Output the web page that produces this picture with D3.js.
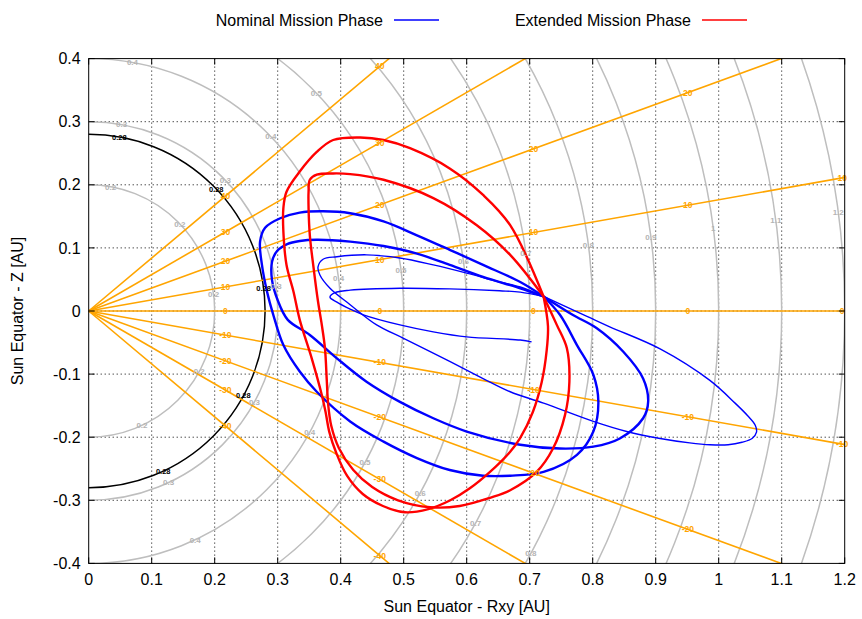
<!DOCTYPE html>
<html>
<head>
<meta charset="utf-8">
<script src="https://cdn.jsdelivr.net/npm/d3@7"></script>
<style>
  body { margin: 0; background: #fff; }
  svg { display: block; }
  text { font-family: "Liberation Sans", Arial, sans-serif; }
</style>
</head>
<body>
<svg id="chart" width="862" height="619"></svg>
<script>
// Axis ticks
const xTicks = [0, 0.1, 0.2, 0.3, 0.4, 0.5, 0.6, 0.7, 0.8, 0.9, 1, 1.1, 1.2];
const xTickLabels = ["0", "0.1", "0.2", "0.3", "0.4", "0.5", "0.6", "0.7", "0.8", "0.9", "1", "1.1", "1.2"];
const yTicks = [-0.4, -0.3, -0.2, -0.1, 0, 0.1, 0.2, 0.3, 0.4];
const yTickLabels = ["-0.4", "-0.3", "-0.2", "-0.1", "0", "0.1", "0.2", "0.3", "0.4"];

// Heliocentric distance rings [AU] and the latitudes [deg] where they are labelled
const distanceRings = [0.2, 0.3, 0.4, 0.5, 0.6, 0.7, 0.8, 0.9, 1.0, 1.1, 1.2];
const distanceRingLabels = ["0.2", "0.3", "0.4", "0.5", "0.6", "0.7", "0.8", "0.9", "1", "1.1", "1.2"];
const ringLabelLatitudes = [80, 43.7, 7.5, -28.7, -65];
const perihelionRing = 0.28;
const perihelionRingLabel = "0.28";

// Solar latitude lines [deg] and the Rxy positions [AU] of their labels
const latitudes = [-40, -30, -20, -10, 0, 10, 20, 30, 40];
const latitudeLabelRxy = [0.217, 0.462, 0.706, 0.951, 1.196];

// Nominal mission phase arcs [Rxy, Z] in AU, joined at the Venus flyby point
const nominalArc1 = [
  [0.703, -0.049], [0.685, -0.046], [0.600, -0.041], [0.547, -0.033], [0.494, -0.022],
  [0.436, -0.006], [0.415, 0.003], [0.394, 0.014], [0.383, 0.022], [0.391, 0.029],
  [0.415, 0.033], [0.494, 0.036], [0.573, 0.035], [0.652, 0.032], [0.685, 0.030], [0.722, 0.023]
];
const nominalArc2 = [
  [0.722, 0.023], [0.790, -0.008], [0.827, -0.025], [0.907, -0.060], [0.986, -0.110],
  [1.026, -0.146], [1.046, -0.166], [1.058, -0.181], [1.060, -0.192], [1.053, -0.202],
  [1.037, -0.208], [1.015, -0.212], [0.986, -0.212], [0.954, -0.209], [0.907, -0.202],
  [0.854, -0.191], [0.801, -0.175], [0.722, -0.146], [0.669, -0.128], [0.626, -0.107],
  [0.573, -0.080], [0.499, -0.043], [0.457, -0.022], [0.415, 0.010], [0.383, 0.036],
  [0.367, 0.057], [0.364, 0.070], [0.372, 0.082], [0.394, 0.086], [0.441, 0.089],
  [0.494, 0.084], [0.547, 0.073], [0.600, 0.060], [0.652, 0.046], [0.685, 0.038],
  [0.722, 0.023]
];
const nominalArc3 = [
  [0.722, 0.023], [0.768, -0.006], [0.806, -0.027], [0.849, -0.065], [0.880, -0.107],
  [0.888, -0.144], [0.880, -0.170], [0.843, -0.202], [0.801, -0.215], [0.748, -0.218],
  [0.685, -0.212], [0.600, -0.191], [0.547, -0.170], [0.494, -0.144], [0.441, -0.112],
  [0.394, -0.075], [0.351, -0.038], [0.316, -0.014], [0.300, 0.017], [0.291, 0.049],
  [0.291, 0.078], [0.299, 0.095], [0.315, 0.106], [0.335, 0.111], [0.362, 0.113],
  [0.415, 0.110], [0.468, 0.103], [0.521, 0.091], [0.573, 0.073], [0.626, 0.054],
  [0.685, 0.036], [0.722, 0.023]
];
const nominalArc4 = [
  [0.722, 0.023], [0.748, -0.006], [0.775, -0.054], [0.801, -0.101], [0.809, -0.144],
  [0.801, -0.191], [0.775, -0.228], [0.722, -0.255], [0.669, -0.261], [0.626, -0.261],
  [0.573, -0.252], [0.521, -0.233], [0.468, -0.207], [0.415, -0.175], [0.362, -0.128],
  [0.335, -0.096], [0.309, -0.054], [0.293, -0.006], [0.283, 0.031], [0.275, 0.073],
  [0.272, 0.110], [0.280, 0.132], [0.304, 0.147], [0.335, 0.156], [0.372, 0.158],
  [0.415, 0.155], [0.468, 0.142], [0.521, 0.120], [0.573, 0.097], [0.626, 0.073],
  [0.685, 0.046], [0.722, 0.023]
];

// Extended mission phase arcs [Rxy, Z] in AU
const extendedArc1 = [
  [0.722, 0.023], [0.669, 0.136], [0.626, 0.184], [0.573, 0.226], [0.510, 0.258],
  [0.468, 0.271], [0.431, 0.275], [0.388, 0.271], [0.362, 0.252], [0.335, 0.221],
  [0.314, 0.189], [0.309, 0.163], [0.309, 0.126], [0.314, 0.073], [0.325, 0.031],
  [0.335, -0.014], [0.354, -0.075], [0.370, -0.133], [0.376, -0.160], [0.382, -0.192],
  [0.393, -0.225], [0.410, -0.261], [0.435, -0.290], [0.467, -0.309], [0.502, -0.319],
  [0.539, -0.314], [0.574, -0.300], [0.605, -0.281], [0.637, -0.255], [0.669, -0.223],
  [0.685, -0.201], [0.705, -0.160], [0.719, -0.113], [0.727, -0.062], [0.729, -0.024],
  [0.722, 0.023]
];
const extendedArc2 = [
  [0.722, 0.023], [0.669, 0.089], [0.616, 0.136], [0.547, 0.179], [0.468, 0.208],
  [0.415, 0.217], [0.388, 0.218], [0.362, 0.216], [0.351, 0.208], [0.349, 0.189],
  [0.349, 0.163], [0.351, 0.120], [0.357, 0.068], [0.364, 0.015], [0.370, -0.022],
  [0.375, -0.059], [0.378, -0.112], [0.380, -0.147], [0.385, -0.182], [0.397, -0.217],
  [0.420, -0.252], [0.450, -0.279], [0.491, -0.300], [0.542, -0.311], [0.589, -0.309],
  [0.637, -0.296], [0.669, -0.284], [0.711, -0.255], [0.737, -0.218], [0.756, -0.165],
  [0.763, -0.112], [0.759, -0.059], [0.743, -0.022], [0.722, 0.023]
];

const legendItems = [
  { label: "Nominal Mission Phase", color: "#0000ff" },
  { label: "Extended Mission Phase", color: "#ff0000" }
];

const svg = d3.select("#chart");
const plotLeft = 88.7, plotRight = 844.7, plotTop = 58.6, plotBottom = 563.4;

const x = d3.scaleLinear().domain([0, 1.2]).range([plotLeft, plotRight]);
const y = d3.scaleLinear().domain([-0.4, 0.4]).range([plotBottom, plotTop]);

svg.append("defs").append("clipPath").attr("id", "plotClip")
  .append("rect").attr("x", plotLeft).attr("y", plotTop)
  .attr("width", plotRight - plotLeft).attr("height", plotBottom - plotTop);

const plot = svg.append("g").attr("clip-path", "url(#plotClip)");

// dotted grid
const grid = plot.append("g").attr("stroke", "#000").attr("stroke-width", 1)
  .attr("stroke-dasharray", "1,3");
grid.selectAll("line.gx").data(xTicks.slice(1, -1)).join("line")
  .attr("x1", d => x(d)).attr("x2", d => x(d)).attr("y1", plotTop).attr("y2", plotBottom);
grid.selectAll("line.gy").data(yTicks.slice(1, -1)).join("line")
  .attr("x1", plotLeft).attr("x2", plotRight).attr("y1", d => y(d)).attr("y2", d => y(d));

const rx = r => x(r) - x(0);
const ry = r => y(0) - y(r);
const rad = Math.PI / 180;

// distance rings
plot.append("g").selectAll("ellipse").data(distanceRings).join("ellipse")
  .attr("cx", x(0)).attr("cy", y(0)).attr("rx", rx).attr("ry", ry)
  .attr("fill", "none").attr("stroke", "#bebebe").attr("stroke-width", 1.5);
plot.append("ellipse").attr("cx", x(0)).attr("cy", y(0))
  .attr("rx", rx(perihelionRing)).attr("ry", ry(perihelionRing))
  .attr("fill", "none").attr("stroke", "#000").attr("stroke-width", 1.5);

// latitude lines
plot.append("g").selectAll("line").data(latitudes).join("line")
  .attr("x1", x(0)).attr("y1", y(0))
  .attr("x2", d => x(2 * Math.cos(d * rad))).attr("y2", d => y(2 * Math.sin(d * rad)))
  .attr("stroke", "#ffa500").attr("stroke-width", 1.6);

// ring and latitude labels
const inside = (px, py) => px >= x(0.005) && px <= x(1.2) && py >= y(0.398) && py <= y(-0.398);
const ringLabelData = [];
distanceRings.forEach((r, i) => ringLabelLatitudes.forEach(a => {
  const px = x(r * Math.cos(a * rad)), py = y(r * Math.sin(a * rad));
  if (inside(px, py)) ringLabelData.push({ px, py, t: distanceRingLabels[i], c: "#b4b4b4", s: 8 });
}));
ringLabelLatitudes.forEach(a => {
  ringLabelData.push({ px: x(perihelionRing * Math.cos(a * rad)), py: y(perihelionRing * Math.sin(a * rad)), t: perihelionRingLabel, c: "#000", s: 7.5 });
});
const latLabelData = [];
latitudes.forEach(l => latitudeLabelRxy.forEach(r => {
  const z = r * Math.tan(l * rad);
  if (Math.abs(z) <= 0.395) latLabelData.push({ px: x(r), py: y(z), t: String(l), c: "#ffa500", s: 8.5 });
}));

// orbits
const line = d3.line().x(d => x(d[0])).y(d => y(d[1])).curve(d3.curveCatmullRom.alpha(0.5));
const orbits = plot.append("g").attr("fill", "none").attr("stroke-linejoin", "round");
[[nominalArc1, 1.4], [nominalArc2, 1.4], [nominalArc3, 2.4], [nominalArc4, 2.4]].forEach(([arc, w]) => {
  orbits.append("path").attr("d", line(arc)).attr("stroke", "#0000ff").attr("stroke-width", w);
});
[extendedArc1, extendedArc2].forEach(arc => {
  orbits.append("path").attr("d", line(arc)).attr("stroke", "#ff0000").attr("stroke-width", 2.4);
});

svg.append("g").selectAll("text").data(ringLabelData.concat(latLabelData)).join("text")
  .attr("x", d => d.px).attr("y", d => d.py).attr("dy", "0.35em")
  .attr("text-anchor", "middle").attr("font-size", d => d.s).attr("font-weight", "bold")
  .attr("fill", d => d.c).text(d => d.t);

// frame and ticks
svg.append("rect").attr("x", plotLeft).attr("y", plotTop)
  .attr("width", plotRight - plotLeft).attr("height", plotBottom - plotTop)
  .attr("fill", "none").attr("stroke", "#000").attr("stroke-width", 1);
const ticks = svg.append("g").attr("stroke", "#000").attr("stroke-width", 1);
xTicks.forEach(t => {
  ticks.append("line").attr("x1", x(t)).attr("x2", x(t)).attr("y1", plotBottom).attr("y2", plotBottom - 6);
  ticks.append("line").attr("x1", x(t)).attr("x2", x(t)).attr("y1", plotTop).attr("y2", plotTop + 6);
});
yTicks.forEach(t => {
  ticks.append("line").attr("x1", plotLeft).attr("x2", plotLeft + 6).attr("y1", y(t)).attr("y2", y(t));
  ticks.append("line").attr("x1", plotRight).attr("x2", plotRight - 6).attr("y1", y(t)).attr("y2", y(t));
});
svg.append("g").selectAll("text").data(xTicks).join("text")
  .attr("x", d => x(d)).attr("y", 584.5).attr("text-anchor", "middle")
  .attr("font-size", 16).text((d, i) => xTickLabels[i]);
svg.append("g").selectAll("text").data(yTicks).join("text")
  .attr("x", plotLeft - 8).attr("y", d => y(d)).attr("dy", "0.35em").attr("text-anchor", "end")
  .attr("font-size", 16).text((d, i) => yTickLabels[i]);

svg.append("text").attr("x", (plotLeft + plotRight) / 2).attr("y", 611.5).attr("text-anchor", "middle")
  .attr("font-size", 16).text("Sun Equator - Rxy [AU]");
svg.append("text").attr("transform", `translate(23,${(plotTop + plotBottom) / 2}) rotate(-90)`)
  .attr("text-anchor", "middle").attr("font-size", 16).text("Sun Equator - Z [AU]");

// legend
const legendRight = [383, 691];
legendItems.forEach((it, i) => {
  svg.append("text").attr("x", legendRight[i]).attr("y", 20).attr("dy", "0.35em")
    .attr("text-anchor", "end").attr("font-size", 16).text(it.label);
  svg.append("line").attr("x1", legendRight[i] + 11).attr("x2", legendRight[i] + 56)
    .attr("y1", 20).attr("y2", 20).attr("stroke", it.color).attr("stroke-width", 1.6);
});
</script>
</body>
</html>
